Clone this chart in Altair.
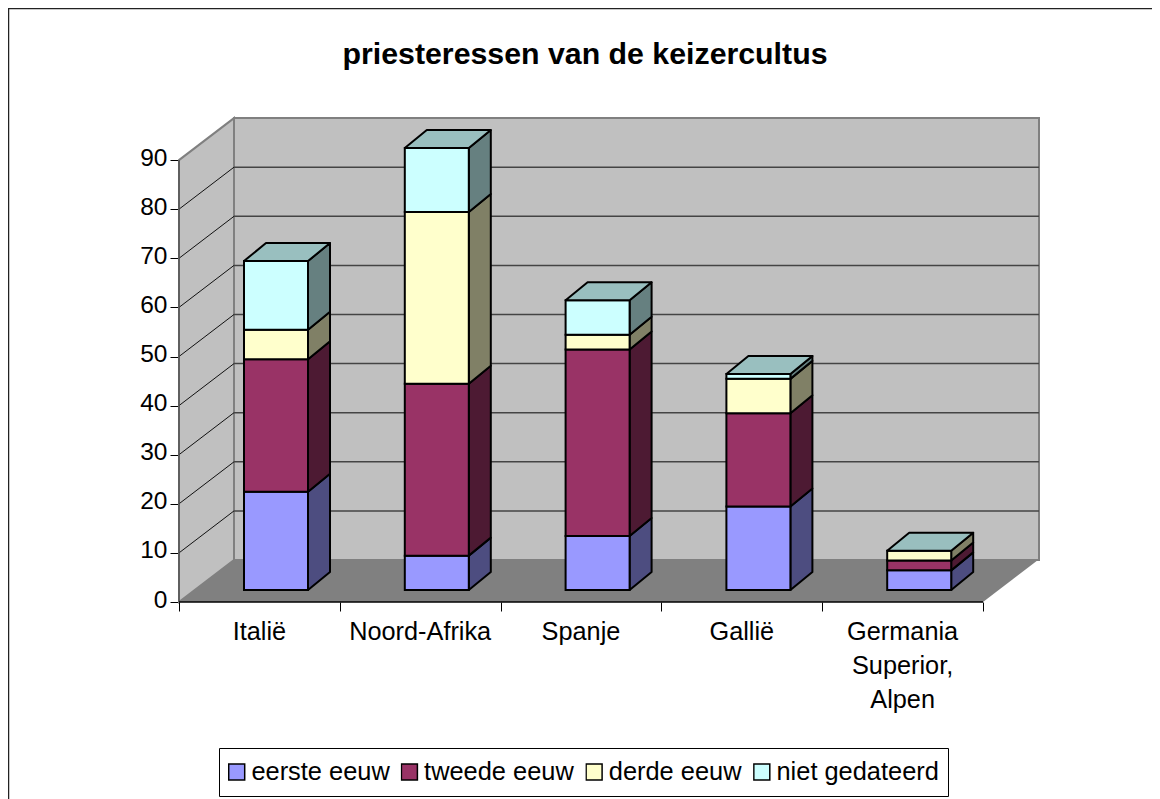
import altair as alt
import pandas as pd

categories = ["Italië", "Noord-Afrika", "Spanje", "Gallië", "Germania\nSuperior,\nAlpen"]
eras = ["eerste eeuw", "tweede eeuw", "derde eeuw", "niet gedateerd"]
eerste = [20, 7, 11, 17, 4]
tweede = [27, 35, 38, 19, 2]
derde = [6, 35, 3, 7, 2]
niet = [14, 13, 7, 1, 0]
front_colors = ["#9999FF", "#993366", "#FFFFCC", "#CCFFFF"]
side_colors = ["#4D4D80", "#4D1A33", "#808066", "#668080"]
top_color = "#99BFBF"
y_ticks = [0, 10, 20, 30, 40, 50, 60, 70, 80, 90]

# 3-D projection, in data units
KX, KY = 160.8, 4.91
W, H = 860, 484
WALL_DX, WALL_DY = 55 / KX, 42 / KY
BAR_START, BAR_W = 65 / KX, 64 / KX
BAR_LIFT = 12 / KY
BAR_DX, BAR_DY = 22 / KX, 18 / KY
FONT = "Liberation Sans"

xs = alt.Scale(domain=[0, W / KX], nice=False, zero=False)
ys = alt.Scale(domain=[0, H / KY], nice=False, zero=False)
X = lambda f="x:Q", **k: alt.X(f, scale=xs, title=None, **k)
Y = lambda f="y:Q", **k: alt.Y(f, scale=ys, title=None, stack=None, **k)

series = [eerste, tweede, derde, niet]
fronts, sides, tops = [], [], []
for i in range(len(categories)):
    x0 = i + BAR_START
    x1 = x0 + BAR_W
    low = 0
    for j, vals in enumerate(series):
        high = low + vals[i]
        if vals[i] > 0:
            fronts.append(dict(x=x0, x2=x1, y=low + BAR_LIFT, y2=high + BAR_LIFT, era=eras[j]))
            face = f"s{i}-{j}"
            sides.append(dict(x=x1, y=low + BAR_LIFT, y2=high + BAR_LIFT, face=face, shade=side_colors[j], o=j))
            sides.append(dict(x=x1 + BAR_DX, y=low + BAR_LIFT + BAR_DY, y2=high + BAR_LIFT + BAR_DY, face=face, shade=side_colors[j], o=j))
        low = high
    t = low + BAR_LIFT
    face = f"t{i}"
    for px, a, b in [(x0, t, t), (x0 + BAR_DX, t, t + BAR_DY), (x1, t, t + BAR_DY), (x1 + BAR_DX, t + BAR_DY, t + BAR_DY)]:
        tops.append(dict(x=px, y=a, y2=b, face=face, shade=top_color))

n = len(categories)
wall_top = max(y_ticks)
back_df = pd.DataFrame([dict(x=WALL_DX, x2=W / KX, y=WALL_DY, y2=wall_top + WALL_DY)])
left_df = pd.DataFrame([dict(x=0, y=0, y2=wall_top), dict(x=WALL_DX, y=WALL_DY, y2=wall_top + WALL_DY)])
floor_df = pd.DataFrame([
    dict(x=0, y=0, y2=0),
    dict(x=WALL_DX, y=0, y2=WALL_DY),
    dict(x=n, y=0, y2=WALL_DY),
    dict(x=n + WALL_DX, y=WALL_DY, y2=WALL_DY),
])
left_grid = pd.DataFrame([dict(x=px, y=v + d, t=v) for v in y_ticks[1:-1]
                          for px, d in [(0, 0), (WALL_DX, WALL_DY)]])
back_grid = pd.DataFrame([dict(x=px, y=v + WALL_DY, t=v) for v in y_ticks[1:-1]
                          for px in [WALL_DX, W / KX]])

frame = alt.Chart(pd.DataFrame([{"a": 1}])).mark_rect(fill="transparent", stroke="#222222", strokeWidth=1.5).encode(
    x=alt.value(-170.5), x2=alt.value(1300), y=alt.value(-109.5), y2=alt.value(1000))

axes = alt.Chart(pd.DataFrame([dict(x=0, y=0)])).mark_point(opacity=0).encode(
    x=X(axis=alt.Axis(values=list(range(n + 1)), labels=False, domain=False, grid=False,
                      tickColor="black", tickSize=9, tickWidth=1)),
    y=Y(axis=alt.Axis(values=y_ticks, domain=False, grid=False, tickColor="black", tickSize=9, tickWidth=1,
                      labelFont=FONT, labelFontSize=24.5, labelColor="black", labelPadding=3, labelOffset=-2)),
)

back = alt.Chart(back_df).mark_rect(fill="#C0C0C0", stroke="#808080", strokeWidth=2).encode(
    x=X(), x2="x2:Q", y=Y(), y2="y2:Q")
left = alt.Chart(left_df).mark_area(fill="#C0C0C0", stroke="#808080", strokeWidth=2).encode(
    x=X(), y=Y(), y2="y2:Q")
lgrid = alt.Chart(left_grid).mark_line(color="#111111", strokeWidth=1).encode(x=X(), y=Y(), detail="t:N")
bgrid = alt.Chart(back_grid).mark_line(color="#444444", strokeWidth=1.5).encode(x=X(), y=Y(), detail="t:N")
floor = alt.Chart(floor_df).mark_area(fill="#808080").encode(x=X(), y=Y(), y2="y2:Q")
left_edge = alt.Chart(pd.DataFrame([dict(x=0, y=0, y2=wall_top)])).mark_rule(color="#555555", strokeWidth=1.5).encode(
    x=X(), y=Y(), y2="y2:Q")
base_line = alt.Chart(pd.DataFrame([dict(x=0, x2=n, y=0)])).mark_rule(color="black", strokeWidth=1.5).encode(
    x=X(), x2="x2:Q", y=Y())

STROKE = 2
side = alt.Chart(pd.DataFrame(sides)).mark_area(stroke="black", strokeWidth=STROKE, strokeJoin="round").encode(
    x=X(), y=Y(), y2="y2:Q", detail="face:N", fill=alt.Fill("shade:N", scale=None), order="o:Q")
front = alt.Chart(pd.DataFrame(fronts)).mark_rect(stroke="black", strokeWidth=STROKE).encode(
    x=X(), x2="x2:Q", y=Y(), y2="y2:Q",
    color=alt.Color("era:N", scale=alt.Scale(domain=eras, range=front_colors), legend=alt.Legend(
        title=None, orient="none", legendX=40, legendY=630, direction="horizontal", columns=4,
        symbolType="square", symbolSize=256, symbolStrokeColor="black", symbolStrokeWidth=1.5, symbolOffset=-4,
        labelFont=FONT, labelFontSize=25.4, labelColor="black", labelOffset=2, columnPadding=10.7,
        strokeColor="black", fillColor="white", padding=9, clipHeight=30, labelLimit=400)))
top = alt.Chart(pd.DataFrame(tops)).mark_area(stroke="black", strokeWidth=STROKE, strokeJoin="round").encode(
    x=X(), y=Y(), y2="y2:Q", detail="face:N", fill=alt.Fill("shade:N", scale=None))

labels = alt.Chart(pd.DataFrame(dict(x=[i + 0.5 for i in range(n)], c=categories))).mark_text(
    font=FONT, fontSize=25.3, color="black", baseline="top", align="center", lineBreak="\n", lineHeight=34, dy=18
).encode(x=X(), y=alt.datum(0, scale=ys), text="c:N")

chart = alt.layer(frame, axes, back, left, bgrid, lgrid, floor, left_edge, base_line, side, front, top, labels).properties(
    width=W, height=H,
    title=alt.Title("priesteressen van de keizercultus", font=FONT, fontSize=30.3, fontWeight="bold", color="black",
                    anchor="middle", dx=-24, offset=-63),
    padding={"left": 171, "top": 110, "right": 113, "bottom": 197},
    background="white",
    autosize=alt.AutoSizeParams(type="none"),
).configure_view(stroke=None)

chart.save("out.html", embed_options={"renderer": "svg", "actions": False})
